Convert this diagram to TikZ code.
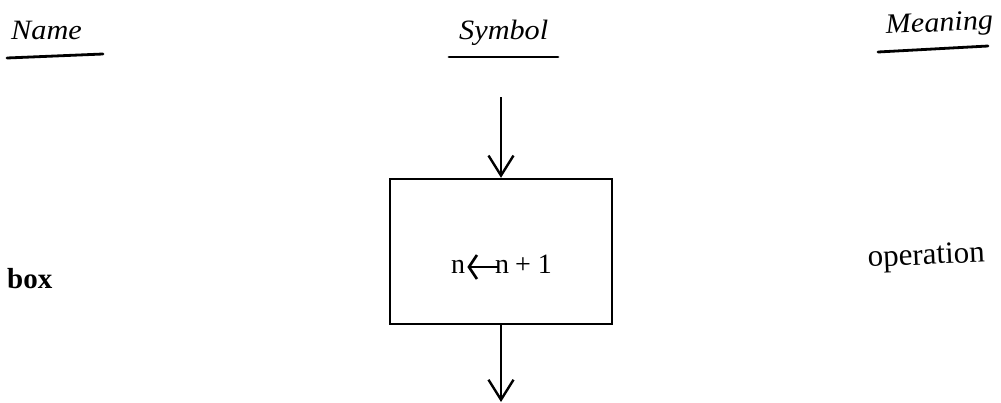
\documentclass[tikz,border=0pt]{standalone}
\usepackage{fontspec}
\setmainfont{Liberation Serif}
\usetikzlibrary{arrows.meta}
\tikzset{
  headtxt/.style={font=\fontsize{28}{31}\selectfont\itshape, inner sep=0pt, anchor=base west, xscale=1.08},
  nametxt/.style={font=\fontsize{29}{32}\selectfont\bfseries, inner sep=0pt, anchor=base west},
  meantxt/.style={font=\fontsize{31}{34}\selectfont, inner sep=0pt, anchor=base west},
  uline/.style={line width=2.8pt, line cap=round},
  flow/.style={line width=2.4pt, -{Straight Barb[length=20pt,width=25pt,line width=2.4pt]}},
  opbox/.style={draw, line width=2.4pt, minimum width=222pt, minimum height=145pt, inner sep=0pt},
  optxt/.style={font=\fontsize{28}{31}\selectfont, inner sep=0pt, anchor=base west, text height=12pt, text depth=0pt},
  assign/.style={line width=1.6pt, -{Straight Barb[length=8pt,width=24pt,line width=2.6pt]}}
}
\begin{document}
\begin{tikzpicture}[x=1pt,y=-1pt]
\useasboundingbox (0,0) rectangle (1001,402);
% headings
\node[headtxt] (hname) at (11,39) {Name};
\node[headtxt] (hsym) at (459,39) {Symbol};
\node[headtxt,rotate=3] (hmean) at (886,34) {Meaning};
\coordinate (u1a) at (7,58); \coordinate (u1b) at (103,54);
\coordinate (u2a) at (449,57); \coordinate (u2b) at (558,57);
\coordinate (u3a) at (878,52); \coordinate (u3b) at (988,46);
\draw[uline] (u1a) -- (u1b);
\draw[uline] (u2a) -- (u2b);
\draw[uline] (u3a) -- (u3b);
% row
\node[nametxt] (nbox) at (7,288) {box};
\node[meantxt,rotate=2.5] (mop) at (868,267) {operation};
% symbol
\node[opbox] (op) at (501,251.5) {};
\node[optxt] (nl) at (451,273) {n};
\node[optxt] (nr) at (495,273) {n\hspace{6pt}+\hspace{7pt}1};
\draw[assign] ([xshift=3pt]nr.west) -- ([xshift=2pt]nl.east);
\coordinate (in) at (501,97);
\coordinate (out) at (501,402);
\draw[flow] (in) -- (op.north);
\draw[flow] (op.south) -- (out);
\end{tikzpicture}
\end{document}
